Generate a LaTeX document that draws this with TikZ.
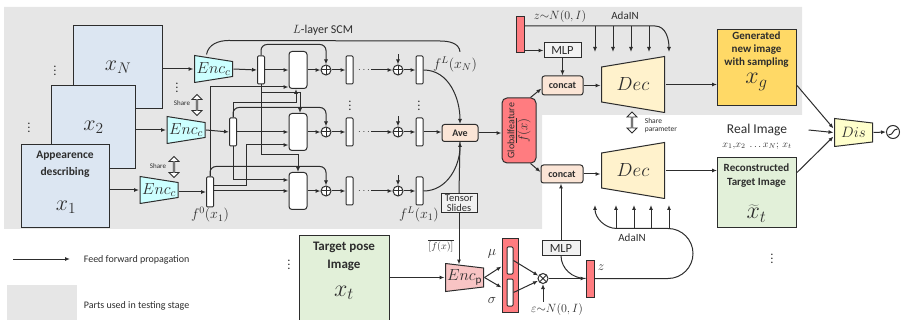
\RequirePackage{fix-cm}
\documentclass[tikz,border=0pt]{standalone}
\usepackage{fontspec}
\setmainfont{Carlito}
\usetikzlibrary{arrows.meta,shapes.arrows}

\definecolor{zone}{RGB}{230,230,230}
\definecolor{edge}{RGB}{45,45,45}
\definecolor{imgblue}{RGB}{220,230,242}
\definecolor{encc}{RGB}{204,255,255}
\definecolor{redc}{RGB}{255,124,128}
\definecolor{tagc}{RGB}{251,229,214}
\definecolor{decc}{RGB}{255,242,204}
\definecolor{genc}{RGB}{255,217,102}
\definecolor{greenc}{RGB}{226,240,217}
\definecolor{disc}{RGB}{255,255,204}
\definecolor{pinkc}{RGB}{248,196,196}
\definecolor{boxc}{RGB}{242,242,242}

\newcommand{\fs}[1]{\fontsize{#1}{#1}\selectfont}

\tikzset{
  imgbox/.style={draw=edge, line width=1pt, fill=imgblue, inner sep=0pt, anchor=north west},
  enc/.style n args={4}{minimum width=#1, minimum height=#2, inner sep=0pt,
    path picture={\filldraw[fill=#4, draw=edge, line width=1pt]
      ([shift={(.5pt,-.5pt)}]path picture bounding box.north west) --
      ([shift={(.5pt,.5pt)}]path picture bounding box.south west) --
      ([shift={(-.5pt,#3pt)}]path picture bounding box.south east) --
      ([shift={(-.5pt,-#3pt)}]path picture bounding box.north east) -- cycle;}},
  dec/.style n args={4}{minimum width=#1, minimum height=#2, inner sep=0pt,
    path picture={\filldraw[fill=#4, draw=edge, line width=1pt]
      ([shift={(.5pt,-#3pt)}]path picture bounding box.north west) --
      ([shift={(.5pt,#3pt)}]path picture bounding box.south west) --
      ([shift={(-.5pt,.5pt)}]path picture bounding box.south east) --
      ([shift={(-.5pt,-.5pt)}]path picture bounding box.north east) -- cycle;}},
  bar/.style={draw=edge, fill=white, rounded corners=1pt, minimum width=7, minimum height=28, inner sep=0pt},
  blk/.style={draw=edge, fill=white, rounded corners=3pt, minimum width=18, minimum height=37, inner sep=0pt},
  oplus/.style={draw=edge, circle, fill=white, minimum size=10, inner sep=0pt,
    path picture={\draw[edge] (path picture bounding box.north) -- (path picture bounding box.south)
      (path picture bounding box.west) -- (path picture bounding box.east);}},
  otimes/.style={draw=edge, circle, fill=white, minimum size=10, inner sep=0pt,
    path picture={\draw[edge] ([shift={(-4pt,-4pt)}]path picture bounding box.center) -- ([shift={(4pt,4pt)}]path picture bounding box.center)
      ([shift={(-4pt,4pt)}]path picture bounding box.center) -- ([shift={(4pt,-4pt)}]path picture bounding box.center);}},
  tag/.style={draw=edge, fill=tagc, rounded corners=2.5pt, inner sep=0pt, font=\bfseries\fs{10}},
  gbox/.style={draw=edge, fill=boxc, inner sep=1pt},
  redbar/.style={draw=edge, fill=redc, minimum width=8, inner sep=0pt},
  share/.style={double arrow, draw=edge, fill=white, rotate=90, minimum height=21, minimum width=10,
    double arrow head extend=2pt, inner sep=0pt, line width=.8pt},
  dots/.style={inner sep=0pt, font=\bfseries},
}

\begin{document}
\begin{tikzpicture}[x=1pt, y=1pt, >={Latex[length=5pt,width=4pt]}, line width=1pt, color=edge]
\useasboundingbox (0,0) rectangle (904,-320);
\clip (0,0) rectangle (904,-320);
\fill[zone] (4,-7) -- (802,-7) -- (802,-115) -- (542,-115) -- (542,-229) -- (4,-229) -- cycle;

% appearance images
\node[imgbox, minimum width=89, minimum height=83, font=\fs{22}] (xN) at (73,-25) {$x_N$};
\node[imgbox, minimum width=84, minimum height=83, font=\fs{22}] (x2) at (51,-85) {$x_2$};
\node[imgbox, minimum width=88, minimum height=83] (x1) at (21,-144) {};
\node[font=\bfseries\fontsize{11.5}{17}\selectfont, align=center, inner sep=0pt] (x1t) at (65,-164) {Appearence\\describing};
\node[font=\fs{22}, inner sep=0pt] (x1l) at (66,-207) {$x_1$};
\node[dots] (dt1) at (55,-68) {$\vdots$};
\node[dots] (dt2) at (29,-125) {$\vdots$};
\node[dots] (dt3) at (177,-85) {$\vdots$};

\node[enc={39}{28}{6.5}{encc}, font=\fs{16}] (encN) at (213.5,-69) {$Enc_c$};
\node[enc={39}{28}{6.5}{encc}, font=\fs{16}] (enc2) at (186,-130) {$Enc_c$};
\node[enc={39}{28}{6.5}{encc}, font=\fs{16}] (enc1) at (159,-190) {$Enc_c$};
\draw[->] (xN.east |- encN.west) -- (encN.west);
\draw[->] (x2.east |- enc2.west) -- (enc2.west);
\draw[->] (x1.east |- enc1.west) -- (enc1.west);

\node[share] (sh1) at (197,-105) {};
\node[share] (sh2) at (174,-167) {};
\node[font=\fs{7}] (sh1t) at (182,-103) {Share};
\node[font=\fs{7}] (sh2t) at (158,-166) {Share};

% SCM
\node[bar] (fN0) at (261,-70) {};
\node[bar] (f20) at (233,-132) {};
\node[bar, minimum height=30] (f10) at (210,-192) {};
\draw[->] (encN.east) -- (fN0.west);
\draw[->] (enc2.east) -- (f20.west);
\draw[->] (enc1.east |- f10.west) -- (f10.west);

\foreach \r/\y in {N/70,2/132,1/191}{
  \node[blk] (b\r) at (298,-\y) {};
  \node[oplus] (p\r) at (326,-\y) {};
  \node[bar] (h\r) at (349.5,-\y) {};
  \node[inner sep=1pt] (d\r) at (364,-\y) {$\cdots$};
  \node[oplus] (q\r) at (398,-\y) {};
  \node[bar] (l\r) at (419.5,-\y) {};
  \draw[->] (b\r) -- (p\r);
  \draw[->] (p\r) -- (h\r);
  \draw[->] (d\r) -- (q\r);
  \draw[->] (q\r) -- (l\r);
  \draw[<-] (q\r.north) -- ++(0,10);
}
\node[dots] (dt4) at (350,-103) {$\vdots$};
\node[dots] (dt5) at (419,-103) {$\vdots$};

\draw[->] (fN0) -- (bN);
\draw[->] (f20) -- (b2);
\draw[->] (f10.east |- b1.west) -- (b1.west);
\draw[->, rounded corners=6] (fN0.north) |- ([yshift=20]pN.north) -- (pN.north);
\draw[->, rounded corners=6] (f20.north) |- ([yshift=19]p2.north) -- (p2.north);
\draw[->, rounded corners=6] (f10.north) |- ([yshift=19]p1.north) -- (p1.north);
\draw[->] (f10.north) |- ([yshift=-17]bN.west);
\draw[->] ([yshift=6]f10.east) -| ([xshift=-42,yshift=-13]b2.west) -- ([yshift=-13]b2.west);
\draw[->] (f20.north) |- ([xshift=-2,yshift=-13.5]bN.south) -- ([xshift=-2]bN.south);
\draw[->] (f20.south) |- ([yshift=11]b1.west);
\draw[->] (fN0.south) |- ([xshift=2,yshift=20.5]b2.north) -- ([xshift=2]b2.north);
\draw[->] (fN0.south) |- ([yshift=17]b1.north) -- (b1.north);

\node[font=\fs{14}, inner sep=1pt] (fLN) at (455,-64) {$f^L(x_N)$};
\node[font=\fs{14}, inner sep=1pt] (fL1) at (419,-214) {$f^L(x_1)$};
\node[font=\fs{14}, inner sep=1pt] (f01) at (210,-215) {$f^0(x_1)$};
\node[font=\fs{12}] (scm) at (323,-30) {$L$-layer SCM};
\draw ([xshift=-7]encN.north) to[out=80,in=180] ++(22,14) -- (440,-41) to[out=0,in=95] ([xshift=5,yshift=3]fLN.north);

\node[tag, minimum width=36, minimum height=17] (ave) at (460,-133) {Ave};
\draw[->] (lN.east) to[out=0,in=90] (ave.north);
\draw[->] (l2.east) -- (l2.east -| ave.west);
\draw[->] (l1.east) to[out=0,in=-90] (ave.south);

\node[gbox, align=center, minimum width=36, font=\fontsize{10.5}{10}\selectfont] (ts) at (459,-203) {Tensor\\Slides};
\draw (ave.south) -- (ts.north);

% pose branch
\node[imgbox, fill=greenc, minimum width=90, minimum height=95] (tgt) at (299,-235) {};
\node[font=\bfseries\fontsize{13}{18}\selectfont, align=center, inner sep=0pt] (tgtt) at (344,-256) {Target pose\\Image};
\node[font=\fs{24}, inner sep=0pt] (tgtl) at (344,-293) {$x_t$};
\node[dots] (dt6) at (289,-262) {$\vdots$};

\node[enc={39}{29}{5}{pinkc}, font=\fs{16}] (encp) at (464.5,-277.5) {$Enc_{\mathrm{p}}$};
\draw[->] (ts.south) -- ([yshift=-2pt]ts.south |- encp.north);
\node[font=\fs{10}, inner sep=1pt] (fbar) at (441,-246) {$\overline{[f(x)]}$};
\draw[->] (tgt.east |- encp.west) -- (encp.west);

\node[draw=edge, fill=redc, minimum width=16, minimum height=73, inner sep=0pt] (ms) at (510,-275.5) {};
\node[bar, minimum width=6, minimum height=27] (mu) at (510,-260.5) {};
\node[bar, minimum width=6, minimum height=27] (sg) at (510,-292.5) {};
\node[font=\fs{14}, inner sep=0pt] (mut) at (492,-254) {$\mu$};
\node[font=\fs{14}, inner sep=0pt] (sgt) at (492,-300) {$\sigma$};
\draw[->] (encp.east) -- ([yshift=-6]mu.west -| ms.west);
\draw[->] (encp.east) -- ([yshift=5]sg.west -| ms.west);

\node[otimes] (ot) at (543,-278.5) {};
\draw[->] (mu.east) -- (ot);
\draw[->] (sg.east) -- (ot);
\node[font=\fs{12}, inner sep=1pt] (eps) at (557,-309) {$\varepsilon{\sim}N(0,I)$};
\draw[->] (ot |- eps.north) -- (ot.south);

\node[redbar, minimum height=37] (z) at (590,-278.5) {};
\node[font=\fs{13}, inner sep=0pt] (zl) at (601,-268) {$z$};
\draw[->] (ot) -- (z);
\node[gbox, minimum width=38, minimum height=14, font=\fs{12.5}] (mlp2) at (561,-248) {MLP};
\draw (mlp2.south) to[out=-90,in=180] (z.west);

\draw[->] (z.east) -- (668,-278.5) arc[start angle=-90, end angle=90, radius=25] -- (617,-228.5) to[out=180,in=-90] (595,-205);
\foreach \x in {616,634,651,669} \draw[->] (\x,-228.5) -- (\x,-205);
\node[font=\fs{11}] (ada2) at (632,-238) {AdaIN};

% generator
\node[redbar, minimum height=36] (zt) at (520,-35) {};
\node[font=\fs{12}] (ztl) at (560,-17) {$z{\sim}N(0,I)$};
\node[font=\fs{11}] (ada1) at (625,-16) {AdaIN};
\draw[->] ([yshift=9]zt.east) -- (655,-26) to[out=0,in=90] (669,-52);
\foreach \x in {595,613,631,649} \draw[->] (\x,-26) -- (\x,-52);
\node[gbox, minimum width=37, minimum height=15, font=\fs{12.5}] (mlp1) at (562.5,-50.5) {MLP};
\draw[->] (zt.east |- mlp1.west) -- (mlp1.west);

\node[tag, minimum width=41, minimum height=19] (cc1) at (562.5,-85.5) {concat};
\node[tag, minimum width=42, minimum height=18] (cc2) at (562,-174) {concat};
\draw[->] (mlp1) -- (cc1);
\draw[->] (mlp2.north) -- (mlp2.north |- cc2.south);

\node[draw=edge, fill=redc, rounded corners=5pt, minimum width=34, minimum height=65] (gf) at (519,-130.5) {};
\node[rotate=90, align=center, font=\fontsize{10}{13}\selectfont] (gft) at (gf.center) {Globalfeature\\{\fs{13}$\overline{f(x)}$}};
\draw[->] (ave.east) -- (ave.east -| gf.west);
\draw[->] ([xshift=-6]gf.north east) -- ([yshift=-3]cc1.west);
\draw[->] ([xshift=-6]gf.south east) -- ([yshift=2]cc2.west);

\node[dec={64}{57}{11}{decc}, font=\fs{19}] (dec1) at (633,-84.5) {$Dec$};
\node[dec={64}{57}{11}{decc}, font=\fs{19}] (dec2) at (633,-170.5) {$Dec$};
\draw[->] (cc1.east) -- (cc1.east -| dec1.west);
\draw[->] (cc2.east) -- (cc2.east -| dec2.west);
\node[share] (sh3) at (632,-122.5) {};
\node[font=\fontsize{7.5}{8}\selectfont, align=left, anchor=west] (sh3t) at (641,-126) {Share\\parameter};

\node[imgbox, fill=genc, minimum width=79, minimum height=76] (gen) at (717,-29) {};
\node[font=\bfseries\fontsize{11}{13}\selectfont, align=center, inner sep=0pt] (gent) at (756.5,-50) {Generated\\new image\\with sampling};
\node[font=\fs{24}, inner sep=0pt] (genl) at (756.5,-82) {$x_g$};
\draw[->] (dec1.east) -- (dec1.east -| gen.west);

\node[imgbox, fill=greenc, minimum width=79, minimum height=70] (rec) at (717,-157) {};
\node[font=\bfseries\fontsize{11}{14}\selectfont, align=center, inner sep=0pt] (rect) at (756.5,-176) {Reconstructed\\Target Image};
\node[font=\fs{24}, inner sep=0pt] (recl) at (756.5,-214) {$\widetilde{x}_t$};
\draw[->] (dec2.east) -- (dec2.east -| rec.west);
\node[dots] (dt7) at (772,-256) {$\vdots$};

% discriminator
\node[font=\fs{13.5}, inner sep=1pt] (real) at (757,-130) {Real Image};
\node[font=\fs{10}, inner sep=1pt] (realx) at (757,-146) {$x_1{,}x_2\ \ldots x_N;\,x_t$};
\node[enc={39}{29}{5}{disc}, font=\fs{15}] (dis) at (853.5,-132.5) {$Dis$};
\draw[->] ([yshift=-18]gen.east) -- ([yshift=4]dis.west);
\draw[->] ([xshift=20]real.east) -- (dis.west);
\draw[->] ([yshift=20]rec.east) -- ([yshift=-4]dis.west);
\node[draw=edge, circle, minimum size=13, inner sep=0pt] (sig) at (893,-132) {};
\draw ([shift={(-4.5,-3)}]sig.center) .. controls ([shift={(1,-3)}]sig.center) and ([shift={(-1,3)}]sig.center) .. ([shift={(4.5,3)}]sig.center);
\draw[->] (dis.east) -- (sig.west);

% legend
\coordinate (lg1) at (13,-259);
\coordinate (lg2) at (70,-259);
\draw[->] (lg1) -- (lg2);
\node[anchor=west, font=\fs{10}] (lgt1) at (80,-260) {Feed forward propagation};
\fill[zone] (7,-285) rectangle (77,-322);
\node[anchor=west, font=\fs{10}] (lgt2) at (80,-306) {Parts used in testing stage};
\end{tikzpicture}
\end{document}
